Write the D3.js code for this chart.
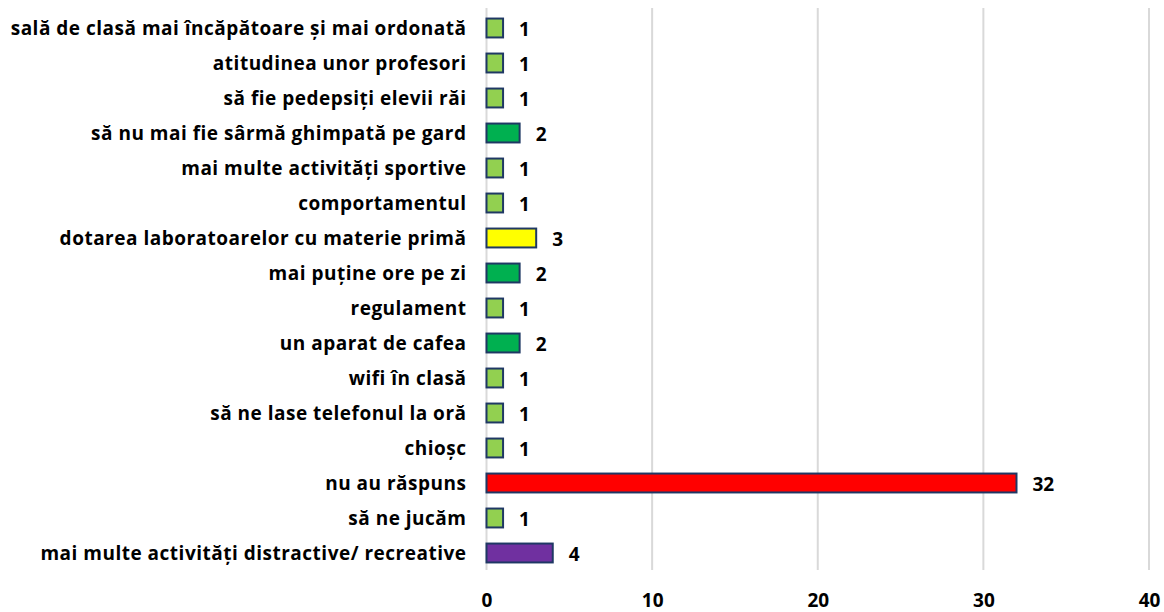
<!DOCTYPE html>
<html>
<head>
<meta charset="utf-8">
<script src="https://cdn.jsdelivr.net/npm/d3@7"></script>
<style>
  body { margin: 0; background: #fff; }
  text { font-family: "Open Sans", "Liberation Sans", Arial, sans-serif; font-weight: bold; fill: #000; }
</style>
</head>
<body>
<div id="chart"></div>
<script>
// categories top to bottom
const categories = [
  "sală de clasă mai încăpătoare și mai ordonată",
  "atitudinea unor profesori",
  "să fie pedepsiți elevii răi",
  "să nu mai fie sârmă ghimpată pe gard",
  "mai multe activități sportive",
  "comportamentul",
  "dotarea laboratoarelor cu materie primă",
  "mai puține ore pe zi",
  "regulament",
  "un aparat de cafea",
  "wifi în clasă",
  "să ne lase telefonul la oră",
  "chioșc",
  "nu au răspuns",
  "să ne jucăm",
  "mai multe activități distractive/ recreative"
];
const values = [1, 1, 1, 2, 1, 1, 3, 2, 1, 2, 1, 1, 1, 32, 1, 4];
const barColors = ["#92D050", "#92D050", "#92D050", "#00B050", "#92D050", "#92D050", "#FFFF00", "#00B050",
  "#92D050", "#00B050", "#92D050", "#92D050", "#92D050", "#FF0000", "#92D050", "#7030A0"];
const xTicks = [0, 10, 20, 30, 40];

const width = 1164, height = 612;
const margin = { top: 10.5, right: 15, bottom: 41.5, left: 486.5 };

const svg = d3.select("#chart").append("svg")
  .attr("width", width)
  .attr("height", height);

const x = d3.scaleLinear().domain([0, 40]).range([margin.left, width - margin.right]);
const y = d3.scaleBand().domain(categories).range([margin.top, height - margin.bottom]).paddingInner(0.46).paddingOuter(0.23);

// gridlines
svg.append("g")
  .selectAll("line")
  .data(xTicks)
  .enter()
  .append("line")
  .attr("x1", d => x(d))
  .attr("x2", d => x(d))
  .attr("y1", 8)
  .attr("y2", 570)
  .attr("stroke", "#d9d9d9")
  .attr("stroke-width", 2);

// bars
svg.append("g")
  .selectAll("rect")
  .data(values)
  .enter()
  .append("rect")
  .attr("x", x(0))
  .attr("y", (d, i) => y(categories[i]))
  .attr("width", d => x(d) - x(0))
  .attr("height", y.bandwidth())
  .attr("fill", (d, i) => barColors[i])
  .attr("stroke", "#1F3864")
  .attr("stroke-width", 2);

// value labels
svg.append("g")
  .selectAll("text")
  .data(values)
  .enter()
  .append("text")
  .attr("x", d => x(d) + 16)
  .attr("y", (d, i) => y(categories[i]) + y.bandwidth() / 2 + 8)
  .style("font-size", "19px")
  .text(d => d);

// category labels
const yAxis = svg.append("g")
  .attr("transform", `translate(${margin.left - 20},0)`)
  .call(d3.axisLeft(y).tickSize(0).tickPadding(0));
yAxis.select(".domain").remove();
yAxis.selectAll("text")
  .style("font-size", "19px")
  .style("letter-spacing", "0.5px")
  .attr("dy", 7)
  .attr("font-family", null);

// x axis labels
const xAxis = svg.append("g")
  .attr("transform", `translate(0,${height - 5})`)
  .call(d3.axisBottom(x).tickValues(xTicks).tickSize(0).tickPadding(0));
xAxis.select(".domain").remove();
xAxis.selectAll("text")
  .style("font-size", "19px")
  .attr("dy", 0)
  .attr("font-family", null);
</script>
</body>
</html>
